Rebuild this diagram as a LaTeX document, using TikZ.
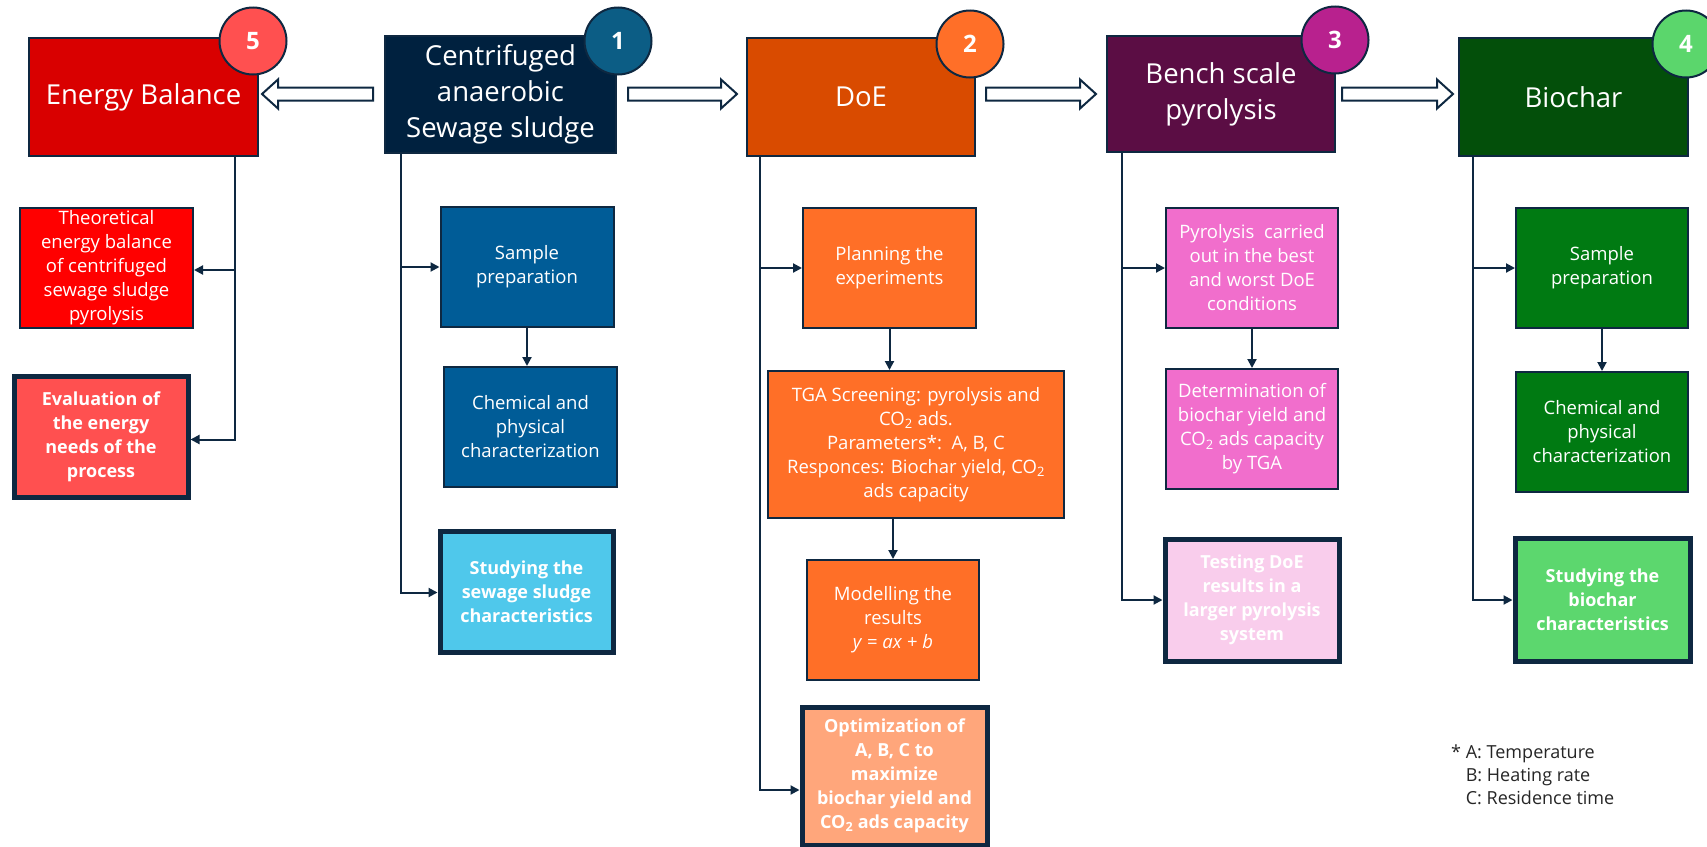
\documentclass[tikz,border=0pt]{standalone}
\usepackage{fontspec}
\setmainfont{Open Sans}
\usetikzlibrary{calc,arrows.meta}
\definecolor{navy}{HTML}{0E2841}
\definecolor{ebred}{HTML}{D90000}
\definecolor{csnavy}{HTML}{00213F}
\definecolor{doeor}{HTML}{D94B00}
\definecolor{benchpl}{HTML}{5B0D44}
\definecolor{biogr}{HTML}{034F0A}
\definecolor{cfive}{HTML}{FF5050}
\definecolor{cone}{HTML}{0C5D85}
\definecolor{ctwo}{HTML}{FF6F28}
\definecolor{cthree}{HTML}{B8218E}
\definecolor{cfour}{HTML}{5BD66C}
\definecolor{redsub}{HTML}{FF0000}
\definecolor{redkey}{HTML}{FF5050}
\definecolor{bluesub}{HTML}{005C97}
\definecolor{bluekey}{HTML}{4FC8EB}
\definecolor{orsub}{HTML}{FF6F27}
\definecolor{orkey}{HTML}{FFA67B}
\definecolor{pinksub}{HTML}{F16ECC}
\definecolor{pinkkey}{HTML}{F9CDEC}
\definecolor{greensub}{HTML}{007A12}
\definecolor{greenkey}{HTML}{5CD76E}
\definecolor{notegray}{HTML}{262626}
\newcommand{\myheadfont}{\fontsize{27.5}{36}\selectfont}
\newcommand{\myboxfont}{\fontsize{18.5}{24}\selectfont}
\newcommand{\mykeyfont}{\fontsize{18}{24}\selectfont}
\newcommand{\mynumfont}{\fontsize{24}{28}\selectfont}
\newcommand{\mynotefont}{\fontsize{18}{23}\selectfont}
\newcommand{\blockarrow}[2]{%
  \coordinate (bah) at ($(#2)!16pt!(#1)$);
  \draw[blockarr] ($(#1)!6.5pt!90:(#2)$) -- ($(bah)!6.5pt!90:(#2)$) -- ($(bah)!14.5pt!90:(#2)$) -- (#2)
    -- ($(bah)!14.5pt!-90:(#2)$) -- ($(bah)!6.5pt!-90:(#2)$) -- ($(#1)!6.5pt!-90:(#2)$) -- cycle;
}
\begin{document}
\begin{tikzpicture}[x=1pt,y=-1pt,
  topbox/.style={draw=navy, line width=2pt, text=white, align=center, inner sep=0pt, font=\myheadfont},
  subbox/.style={draw=navy, line width=2pt, text=white, align=center, inner sep=0pt, font=\myboxfont},
  keybox/.style={subbox, line width=5pt, font=\mykeyfont\bfseries},
  numcirc/.style={circle, draw=navy, line width=2pt, minimum size=67pt, inner sep=0pt, text=white, font=\mynumfont\bfseries},
  linkarr/.style={draw=navy, line width=2pt, -{Triangle[length=9pt,width=9pt]}},
  blockarr/.style={draw=navy, line width=2pt, fill=white, line join=miter}]
\useasboundingbox[fill=white] (0,0) rectangle (1707,846);

% top boxes
\node[topbox, fill=ebred, minimum width=229, minimum height=118] (eb) at (143.5,97) {Energy Balance};
\node[topbox, fill=csnavy, minimum width=231, minimum height=117] (cs) at (500.5,94.5) {Centrifuged\\anaerobic\\Sewage sludge};
\node[topbox, fill=doeor, minimum width=228, minimum height=118] (doe) at (861,97) {DoE};
\node[topbox, fill=benchpl, minimum width=228, minimum height=116] (bench) at (1221,94) {Bench scale\\pyrolysis};
\node[topbox, fill=biogr, minimum width=229, minimum height=118] (bio) at (1573.5,97) {Biochar};

% number circles
\node[numcirc, fill=cfive] (n5) at (253,41) {5};
\node[numcirc, fill=cone] (n1) at (618,41) {1};
\node[numcirc, fill=ctwo] (n2) at (970,44) {2};
\node[numcirc, fill=cthree] (n3) at (1335,40) {3};
\node[numcirc, fill=cfour] (n4) at (1686,44) {4};

% hollow arrows between top boxes
\coordinate (arow) at (0,94);
\coordinate (a1s) at ($(cs.west |- arow)+(-11,0)$);
\coordinate (a1e) at ($(eb.east |- arow)+(3,0)$);
\coordinate (a2s) at ($(cs.east |- arow)+(11,0)$);
\coordinate (a2e) at ($(doe.west |- arow)+(-9,0)$);
\coordinate (a3s) at ($(doe.east |- arow)+(10,0)$);
\coordinate (a3e) at ($(bench.west |- arow)+(-10,0)$);
\coordinate (a4s) at ($(bench.east |- arow)+(6,0)$);
\coordinate (a4e) at ($(bio.west |- arow)+(-5,0)$);
\blockarrow{a1s}{a1e}
\blockarrow{a2s}{a2e}
\blockarrow{a3s}{a3e}
\blockarrow{a4s}{a4e}

% column 5
\node[subbox, fill=redsub, minimum width=173, minimum height=120] (theo) at (106.5,268) {Theoretical\\energy balance\\of centrifuged\\sewage sludge\\pyrolysis};
\node[keybox, fill=redkey, minimum width=174, minimum height=121] (eval) at (101,436.5) {Evaluation of\\the energy\\needs of the\\process};
% column 1
\node[subbox, fill=bluesub, minimum width=173, minimum height=120] (sampB) at (527,267) {Sample\\preparation};
\node[subbox, fill=bluesub, minimum width=173, minimum height=120] (chemB) at (530.5,427) {Chemical and\\physical\\characterization};
\node[keybox, fill=bluekey, minimum width=173, minimum height=121] (studB) at (526.5,591.5) {Studying the\\sewage sludge\\characteristics};
% column 2
\node[subbox, fill=orsub, minimum width=173, minimum height=120] (plan) at (889.5,268) {Planning the\\experiments};
\node[subbox, fill=orsub, minimum width=296, minimum height=147] (tga) at (916,444.5) {TGA Screening: pyrolysis and\\CO\textsubscript{2} ads.\\Parameters*:\ \ A, B, C\\Responces: Biochar yield, CO\textsubscript{2}\\ads capacity};
\node[subbox, fill=orsub, minimum width=172, minimum height=120] (model) at (893,620) {Modelling the\\results\\\textit{y} = \textit{ax} + \textit{b}};
\node[keybox, fill=orkey, minimum width=185, minimum height=138] (opt) at (894.5,776) {Optimization of\\A, B, C to\\maximize\\biochar yield and\\CO\textsubscript{2} ads capacity};
% column 3
\node[subbox, fill=pinksub, minimum width=172, minimum height=120] (pyro) at (1252,268) {Pyrolysis\ \ carried\\out in the best\\and worst DoE\\conditions};
\node[subbox, fill=pinksub, minimum width=172, minimum height=120] (det) at (1252,429) {Determination of\\biochar yield and\\CO\textsubscript{2} ads capacity\\by TGA};
\node[keybox, fill=pinkkey, minimum width=174, minimum height=122] (test) at (1252,600) {Testing DoE\\results in a\\larger pyrolysis\\system};
% column 4
\node[subbox, fill=greensub, minimum width=172, minimum height=120] (sampG) at (1602,268) {Sample\\preparation};
\node[subbox, fill=greensub, minimum width=172, minimum height=120] (chemG) at (1602,432) {Chemical and\\physical\\characterization};
\node[keybox, fill=greenkey, minimum width=175, minimum height=123] (studG) at (1602.5,600) {Studying the\\biochar\\characteristics};

% trunk coordinates
\coordinate (t5) at (235,0);
\coordinate (t1) at (401,0);
\coordinate (t2) at (760,0);
\coordinate (t3) at (1122,0);
\coordinate (t4) at (1473,0);

\draw[linkarr] (eb.south -| t5) |- ($(theo.east)+(0,2)$);
\draw[linkarr] (eb.south -| t5) |- ($(eval.east)+(0,3)$);
\draw[linkarr] (cs.south -| t1) |- (sampB.west);
\draw[linkarr] (cs.south -| t1) |- ($(studB.west)+(0,1)$);
\draw[linkarr] (doe.south -| t2) |- (plan.west);
\draw[linkarr] (doe.south -| t2) |- ($(opt.west)+(0,14)$);
\draw[linkarr] (bench.south -| t3) |- (pyro.west);
\draw[linkarr] (bench.south -| t3) |- (test.west);
\draw[linkarr] (bio.south -| t4) |- (sampG.west);
\draw[linkarr] (bio.south -| t4) |- (studG.west);

% vertical arrows inside columns
\draw[linkarr] (sampB.south) -- (sampB.south |- chemB.north);
\draw[linkarr] (plan.south) -- (plan.south |- tga.north);
\draw[linkarr] (tga.south -| model.north) -- (model.north);
\draw[linkarr] (pyro.south) -- (pyro.south |- det.north);
\draw[linkarr] (sampG.south) -- (sampG.south |- chemG.north);

% footnote
\node[anchor=north west, align=left, inner sep=0pt, text=notegray, font=\mynotefont] (note) at (1451,745) {* A: Temperature\\\phantom{* }B: Heating rate\\\phantom{* }C: Residence time};
\end{tikzpicture}
\end{document}
